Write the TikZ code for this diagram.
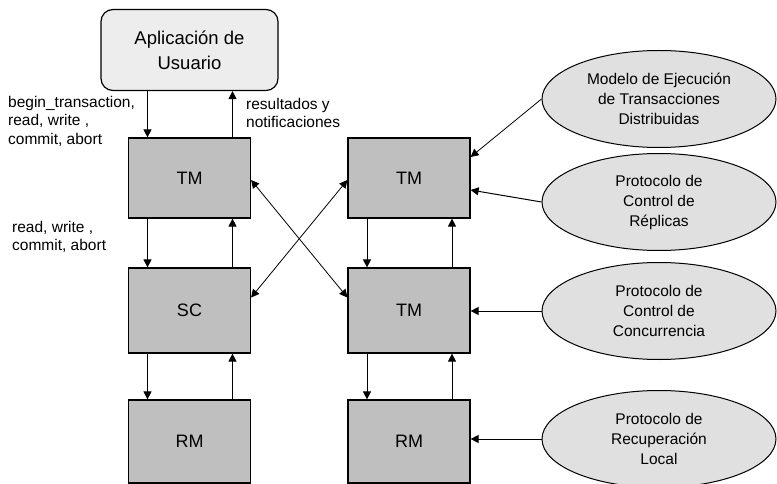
\documentclass[tikz,border=0pt]{standalone}
\usepackage{fontspec}
\setmainfont{Liberation Sans}
\usetikzlibrary{shapes,arrows.meta,positioning}

\begin{document}
\begin{tikzpicture}
  [x=1pt,y=-1pt,>={Triangle[width=8pt,length=8pt]},
   box/.style={draw,line width=1.2pt,fill=black!25,minimum width=122pt,minimum height=80pt,font=\fontsize{18}{18}\selectfont},
   proto/.style={ellipse,draw,line width=1pt,fill=black!12,minimum width=234pt,minimum height=97pt,inner sep=0pt,align=center,font=\fontsize{15.5}{20}\selectfont},
   lbl/.style={align=left,inner sep=0pt,font=\fontsize{15.5}{18.5}\selectfont}]
  \useasboundingbox (0,0) rectangle (777,484);

  \node[draw,line width=1.2pt,rounded corners=12pt,fill=black!7,minimum width=177pt,minimum height=81pt,align=center,font=\fontsize{18.5}{25}\selectfont] (app) at (189.5,50) {Aplicación de\\Usuario};

  \node[box] (tm1) at (189.5,178) {TM};
  \node[box,minimum height=85pt] (sc) at (189.5,310.5) {SC};
  \node[box,minimum height=83pt] (rm1) at (189.5,441.5) {RM};
  \node[box] (tm2) at (409,178) {TM};
  \node[box,minimum height=85pt] (tm3) at (409,310.5) {TM};
  \node[box,minimum height=83pt] (rm2) at (409,441.5) {RM};

  \node[proto] (e1) at (659,99) {Modelo de Ejecución\\de Transacciones\\Distribuidas};
  \node[proto] (e2) at (659,202) {Protocolo de\\Control de\\Réplicas};
  \node[proto] (e3) at (659,311) {Protocolo de\\Control de\\Concurrencia};
  \node[proto] (e4) at (659,439) {Protocolo de\\Recuperación\\Local};

  \node[lbl,anchor=north west] (req) at (8,96) {begin\_transaction,\\read, write ,\\commit, abort};
  \node[lbl,anchor=north west] (res) at (246,98) {resultados y\\notificaciones};
  \node[lbl,anchor=north west] (ops) at (12,221) {read, write ,\\commit, abort};

  \foreach \from/\to in {app/tm1,tm1/sc,sc/rm1,tm2/tm3,tm3/rm2}{
    \draw[->,line width=1pt] ([xshift=-42pt]\from.south) -- ([xshift=-42pt]\to.north);
    \draw[<-,line width=1pt] ([xshift=43pt]\from.south) -- ([xshift=43pt]\to.north);
  }

  \draw[<->,line width=0.8pt] ([yshift=-2pt]tm1.east) -- ([yshift=13pt]tm3.west);
  \draw[<->,line width=0.8pt] ([yshift=13pt]sc.east) -- ([yshift=-2pt]tm2.west);

  \draw[->,line width=0.8pt] (e1.west) -- ([yshift=21pt]tm2.east);
  \draw[->,line width=1pt] (e2.west) -- ([yshift=-12pt]tm2.east);
  \draw[->,line width=1pt] (e3.west) -- (e3.west -| tm3.east);
  \draw[->,line width=1pt] (e4.west) -- (e4.west -| rm2.east);
\end{tikzpicture}
\end{document}
